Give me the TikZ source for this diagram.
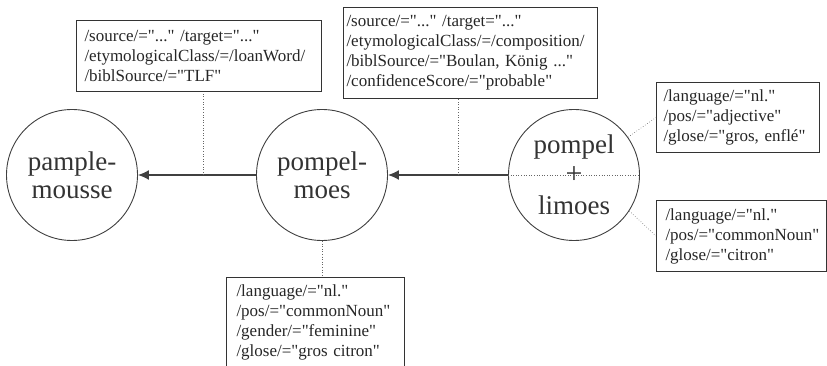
\documentclass[tikz,border=0pt]{standalone}
\usepackage{tikz,xcolor}
\usepackage{fontspec}
\setmainfont{Liberation Serif}[Ligatures=TeXOff]
\usetikzlibrary{arrows.meta}

\begin{document}
\begin{tikzpicture}[x=1pt,y=-1pt,
  word/.style={circle,draw=black!75,line width=0.9pt,minimum size=131pt,inner sep=0pt,
    align=center,text=black!80,font=\fontsize{27}{28}\selectfont},
  part/.style={text=black!80,font=\fontsize{27}{28}\selectfont},
  attr/.style={draw=black!80,line width=1pt,anchor=north west,align=left,inner xsep=8pt,
    inner ysep=0pt,text=black!85,font=\fontsize{17}{20}\selectfont},
  derive/.style={line width=1.4pt,black!75,-{Latex[length=11pt,width=10pt]}},
  link/.style={dotted,black!60,line width=0.6pt}]
\clip (0,0) rectangle (827,366);

\node[word] (pample) at (72,175) {pample-\\mousse};
\node[word] (pompel) at (322,175) {pompel-\\moes};
\node[word] (limoes) at (574,175) {};
\node[part] (first) at (574,147) {pompel};
\node[part,font=\fontsize{30}{30}\selectfont] (plus) at (574,175) {+};
\node[part] (second) at (574,205) {limoes};
\draw[link] (limoes.west) -- (limoes.east);

\node[attr,text width=229pt,minimum height=71pt] (loan) at (76,20)
  {/source/="..." /target="..."\\/etymologicalClass/=/loanWord/\\/biblSource/="TLF"};
\node[attr,inner xsep=3pt,text width=248pt,minimum height=91pt] (compo) at (343,7)
  {/source/="..." /target="..."\\/etymologicalClass/=/composition/\\/biblSource/="Boulan, König ..."\\/confidenceScore/="probable"};
\node[attr,inner xsep=7pt,text width=149pt,minimum height=70pt] (adj) at (656,82)
  {/language/="nl."\\/pos/="adjective"\\/glose/="gros, enflé"};
\node[attr,inner xsep=9pt,text width=152pt,minimum height=71pt] (noun) at (656,200)
  {/language/="nl."\\/pos/="commonNoun"\\/glose/="citron"};
\node[attr,inner xsep=10pt,text width=158pt,minimum height=90pt] (fem) at (226,277)
  {/language/="nl."\\/pos/="commonNoun"\\/gender/="feminine"\\/glose/="gros citron"};

\draw[derive] (pompel) -- (pample);
\draw[derive] (limoes) -- (pompel);

\coordinate (j1) at (203,175);
\coordinate (j2) at (458,175);
\draw[link] (j1) -- (j1 |- loan.south);
\draw[link] (j2) -- (j2 |- compo.south);
\draw[link] (limoes.35) -- (adj.west);
\draw[link] (limoes.-33) -- (noun.west);
\draw[link] (pompel.south) -- (pompel.south |- fem.north);
\end{tikzpicture}
\end{document}
